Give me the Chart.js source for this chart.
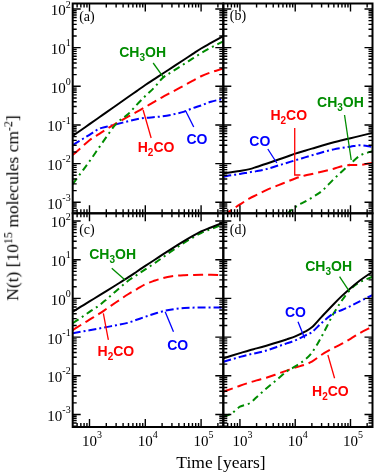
<!DOCTYPE html>
<html><head><meta charset="utf-8">
<script src="https://cdn.jsdelivr.net/npm/chart.js@4.4.1/dist/chart.umd.min.js"></script>
<style>
html,body{margin:0;padding:0;background:#fff;}
#wrap{position:relative;width:374px;height:474px;overflow:hidden;background:#fff;}
#wrap canvas{position:absolute;left:0;top:0;}
.ttl{position:absolute;font-family:"Liberation Serif","Times New Roman",serif;font-size:17.5px;color:#000;white-space:nowrap;line-height:1;transform:translate(-50%,-50%);}
.ttl sup{font-size:0.68em;vertical-align:0.5em;line-height:0;}
#yt{transform:translate(-50%,-50%) rotate(-90deg);}
</style></head><body>
<div id="wrap">
<canvas id="ca" width="374" height="474"></canvas>
<canvas id="cb" width="374" height="474"></canvas>
<canvas id="cc" width="374" height="474"></canvas>
<canvas id="cd" width="374" height="474"></canvas>
<div class="ttl" id="xt" style="left:221px;top:463px;">Time [years]</div>
<div class="ttl" id="yt" style="left:12.5px;top:208px;">N(t) [10<sup>15</sup> molecules cm<sup>-2</sup>]</div>
</div>
<script>
// ---------- data ----------
const timeYears = [500, 700, 1000, 1500, 2000, 3000, 5000, 7000, 1e4, 1.5e4, 2e4, 3e4, 5e4, 7e4, 1e5, 1.5e5, 2.5e5];

// panel (a)
const aTotal  = [0.052, 0.073, 0.105, 0.158, 0.211, 0.319, 0.536, 0.753, 1.08, 1.58, 2.08, 3.05, 4.94, 6.78, 9.5, 13.2, 20];
const aCH3OH  = [0.00295, 0.0057, 0.0115, 0.0267, 0.0484, 0.107, 0.195, 0.33, 0.56, 0.98, 1.6, 2.38, 3.8, 5.2, 7.2, 10.0, 14.5];
const aH2CO   = [0.0167, 0.0256, 0.0404, 0.059, 0.077, 0.110, 0.166, 0.218, 0.29, 0.41, 0.52, 0.71, 1.06, 1.38, 1.82, 2.3, 2.9];
const aCO     = [0.0303, 0.0407, 0.0557, 0.080, 0.090, 0.104, 0.125, 0.141, 0.152, 0.160, 0.167, 0.185, 0.222, 0.27, 0.32, 0.40, 0.47];

// panel (b)
const bTotal  = [0.0056, 0.0060, 0.00645, 0.0072, 0.0082, 0.0099, 0.0128, 0.0151, 0.0181, 0.0216, 0.0244, 0.0291, 0.0357, 0.0401, 0.0454, 0.0522, 0.0624];
const bCO     = [0.0046, 0.0050, 0.0054, 0.0060, 0.0064, 0.0072, 0.0090, 0.0104, 0.0122, 0.0145, 0.0164, 0.0195, 0.0234, 0.0254, 0.0275, 0.030, 0.027];
const bH2CO   = [0.00045, 0.000625, 0.00088, 0.00126, 0.00155, 0.00207, 0.00277, 0.00337, 0.00413, 0.00493, 0.0054, 0.00615, 0.0074, 0.00855, 0.0092, 0.0093, 0.0105];
const bCH3OH  = [null, null, null, null, null, null, null, 0.00049, 0.00075, 0.00104, 0.00132, 0.00193, 0.0040, 0.00625, 0.0099, 0.0163, 0.021];

// panel (c)
const cTotal  = [0.453, 0.61, 0.836, 1.19, 1.54, 2.22, 3.54, 4.89, 6.9, 10.1, 13.3, 19.4, 30.6, 40.6, 54, 68, 92];
const cCH3OH  = [0.228, 0.315, 0.449, 0.662, 0.933, 1.56, 2.9, 4.0, 5.6, 8.3, 11.1, 16.9, 27.7, 36.7, 49, 62, 83];
const cH2CO   = [0.152, 0.205, 0.281, 0.402, 0.532, 0.794, 1.30, 1.72, 2.33, 2.89, 3.31, 3.73, 3.97, 4.03, 4.07, 4.07, 3.98];
const cCO     = [0.125, 0.137, 0.150, 0.167, 0.181, 0.202, 0.236, 0.28, 0.336, 0.406, 0.46, 0.519, 0.565, 0.575, 0.582, 0.582, 0.575];

// panel (d)
const dTotal  = [0.0283, 0.033, 0.0386, 0.0459, 0.051, 0.0598, 0.0745, 0.0873, 0.104, 0.138, 0.179, 0.333, 0.718, 1.16, 1.84, 2.94, 4.88];
const dCO     = [0.0231, 0.0265, 0.0307, 0.0357, 0.0388, 0.0449, 0.058, 0.0687, 0.0822, 0.109, 0.134, 0.232, 0.414, 0.502, 0.634, 0.848, 1.22];
const dCH3OH  = [0.00088, 0.00105, 0.00159, 0.00195, 0.00279, 0.0047, 0.0086, 0.0129, 0.0175, 0.026, 0.0394, 0.1035, 0.417, 0.885, 1.72, 2.66, 3.63];
const dH2CO   = [0.00388, 0.0046, 0.00555, 0.0067, 0.0076, 0.0089, 0.01146, 0.0136, 0.0163, 0.0194, 0.0233, 0.035, 0.0528, 0.0673, 0.09, 0.129, 0.186];

const xTickExponents = [3, 4, 5];
const yTickExponents = [-3, -2, -1, 0, 1, 2];
const panelTags = ['(a)', '(b)', '(c)', '(d)'];

// ---------- styles ----------
const COL = { total: '#000000', co: '#0000ff', h2co: '#ff0000', ch3oh: '#008c00' };
const DASH = { total: [], co: [8, 3, 2, 3], h2co: [10, 5], ch3oh: [7, 4, 2, 4] };
const SERIF = '"Liberation Serif","Times New Roman",serif';
const SANS = '"Liberation Sans",Arial,sans-serif';

const CH3OH_TXT = [['CH', 0], ['3', 1], ['OH', 0]];
const H2CO_TXT = [['H', 0], ['2', 1], ['CO', 0]];
const CO_TXT = [['CO', 0]];

// annotation anchors in log10(data) coordinates
const panels = [
  { id: 'ca', box: [72.7, 3.5, 223.3, 213.3], yMin: 5.19e-4, yMax: 138.7, tagDy: 14, xLab: false, yLab: true,
    series: [['total', aTotal], ['ch3oh', aCH3OH], ['h2co', aH2CO], ['co', aCO]],
    notes: [
      { k: 'ch3oh', txt: CH3OH_TXT, at: [3.952, 0.766], lead: [[4.141, 0.603], [4.32, 0.241]] },
      { k: 'h2co', txt: H2CO_TXT, at: [4.193, -1.691], lead: [[4.105, -1.337], [3.961, -0.613]] },
      { k: 'co', txt: CO_TXT, at: [4.925, -1.492], lead: [[4.868, -1.053], [4.724, -0.639]] } ] },
  { id: 'cb', box: [223.3, 3.5, 372.5, 213.3], yMin: 5.19e-4, yMax: 138.7, tagDy: 13, xLab: false, yLab: false,
    series: [['total', bTotal], ['co', bCO], ['h2co', bH2CO], ['ch3oh', bCH3OH]],
    notes: [
      { k: 'ch3oh', txt: CH3OH_TXT, at: [4.818, -0.527], lead: [[4.892, -0.742], [5.013, -1.906]] },
      { k: 'h2co', txt: H2CO_TXT, at: [3.883, -0.871], lead: [[3.991, -1.078], [3.991, -2.294], [4.094, -2.294]] },
      { k: 'co', txt: CO_TXT, at: [3.36, -1.536], lead: [[3.504, -1.622], [3.667, -1.984]] } ] },
  { id: 'cc', box: [72.7, 213.3, 223.3, 427], yMin: 4.75e-4, yMax: 158, tagDy: 17, xLab: true, yLab: true,
    series: [['total', cTotal], ['ch3oh', cCH3OH], ['h2co', cH2CO], ['co', cCO]],
    notes: [
      { k: 'ch3oh', txt: CH3OH_TXT, at: [3.414, 1.018], lead: [[3.399, 0.778], [3.638, 0.477]] },
      { k: 'h2co', txt: H2CO_TXT, at: [3.473, -1.488], lead: [[3.338, -1.075], [3.248, -0.385]] },
      { k: 'co', txt: CO_TXT, at: [4.58, -1.333], lead: [[4.505, -0.86], [4.356, -0.344]] } ] },
  { id: 'cd', box: [223.3, 213.3, 372.5, 427], yMin: 4.75e-4, yMax: 158, tagDy: 17, xLab: true, yLab: false,
    series: [['total', dTotal], ['co', dCO], ['ch3oh', dCH3OH], ['h2co', dH2CO]],
    notes: [
      { k: 'ch3oh', txt: CH3OH_TXT, at: [4.604, 0.708], lead: [[4.802, 0.561], [4.982, 0.173]] },
      { k: 'co', txt: CO_TXT, at: [4.005, -0.473], lead: [[4.05, -0.602], [4.171, -1.031]] },
      { k: 'h2co', txt: H2CO_TXT, at: [4.636, -2.522], lead: [[4.712, -2.065], [4.591, -1.462]] } ] }
];

function powLabel(ctx, exp, x, y, mode) {
  ctx.font = '15px ' + SERIF;
  const wb = ctx.measureText('10').width;
  ctx.font = '10px ' + SERIF;
  const es = String(exp);
  const we = ctx.measureText(es).width;
  let sx, cy;
  if (mode === 'y') { sx = x - wb - we; cy = y + 2.5; }
  else { sx = x - wb / 2; cy = y; }
  ctx.textAlign = 'left'; ctx.textBaseline = 'middle'; ctx.fillStyle = '#000';
  ctx.font = '15px ' + SERIF; ctx.fillText('10', sx, cy);
  ctx.font = '10px ' + SERIF; ctx.fillText(es, sx + wb, cy - 6.5);
}

function chemText(ctx, parts, cx, base, color) {
  const big = 'bold 14px ' + SANS, small = 'bold 10px ' + SANS;
  let w = 0;
  parts.forEach(([t, s]) => { ctx.font = s ? small : big; w += ctx.measureText(t).width; });
  let x = cx - w / 2;
  ctx.fillStyle = color; ctx.textAlign = 'left'; ctx.textBaseline = 'alphabetic';
  parts.forEach(([t, s]) => {
    ctx.font = s ? small : big;
    ctx.fillText(t, x, s ? base + 4 : base);
    x += ctx.measureText(t).width;
  });
}

function panelPlugin(P, idx) {
  return {
    id: 'panelAxes',
    afterDraw(chart) {
      const ctx = chart.ctx, A = chart.chartArea, xs = chart.scales.x, ys = chart.scales.y;
      const px = lt => xs.getPixelForValue(Math.pow(10, lt));
      const py = ln => ys.getPixelForValue(Math.pow(10, ln));
      ctx.save();
      // ticks (inward, on all four sides)
      ctx.strokeStyle = '#000'; ctx.lineWidth = 1.4; ctx.setLineDash([]);
      ctx.beginPath();
      for (let e = 2; e <= 5; e++) for (let m = 1; m <= 9; m++) {
        const v = m * Math.pow(10, e);
        if (v < xs.min * 1.001 || v > xs.max / 1.001) continue;
        const x = xs.getPixelForValue(v), L = m === 1 ? 8 : 4;
        ctx.moveTo(x, A.bottom); ctx.lineTo(x, A.bottom - L);
        ctx.moveTo(x, A.top); ctx.lineTo(x, A.top + L);
      }
      for (let e = -4; e <= 2; e++) for (let m = 1; m <= 9; m++) {
        const v = m * Math.pow(10, e);
        if (v < ys.min * 1.001 || v > ys.max / 1.001) continue;
        const y = ys.getPixelForValue(v), L = m === 1 ? 8 : 4;
        ctx.moveTo(A.left, y); ctx.lineTo(A.left + L, y);
        ctx.moveTo(A.right, y); ctx.lineTo(A.right - L, y);
      }
      ctx.stroke();
      ctx.lineWidth = 2;
      ctx.strokeRect(A.left, A.top, A.right - A.left, A.bottom - A.top);
      // tick labels
      if (P.yLab) yTickExponents.forEach(e => powLabel(ctx, e, A.left - 2, ys.getPixelForValue(Math.pow(10, e)), 'y'));
      if (P.xLab) xTickExponents.forEach(e => powLabel(ctx, e, xs.getPixelForValue(Math.pow(10, e)), A.bottom + 15, 'x'));
      // panel tag
      ctx.fillStyle = '#000'; ctx.font = '14px ' + SERIF; ctx.textAlign = 'left'; ctx.textBaseline = 'middle';
      ctx.fillText(panelTags[idx], A.left + 6.5, A.top + P.tagDy);
      // species labels with leader lines
      P.notes.forEach(n => {
        const c = COL[n.k];
        ctx.strokeStyle = c; ctx.lineWidth = 1.3;
        ctx.beginPath();
        n.lead.forEach((p, i) => { const X = px(p[0]), Y = py(p[1]); i ? ctx.lineTo(X, Y) : ctx.moveTo(X, Y); });
        ctx.stroke();
        chemText(ctx, n.txt, px(n.at[0]), py(n.at[1]), c);
      });
      ctx.restore();
    }
  };
}

panels.forEach((P, idx) => {
  const [x0, y0, x1, y1] = P.box;
  new Chart(document.getElementById(P.id), {
    type: 'line',
    data: {
      datasets: P.series.map(([k, vals]) => ({
        data: timeYears.map((t, i) => ({ x: t, y: vals[i] })).filter(p => p.y !== null),
        borderColor: COL[k], borderWidth: 2, borderDash: DASH[k],
        pointRadius: 0, fill: false, cubicInterpolationMode: 'monotone', clip: 0
      }))
    },
    options: {
      responsive: false, animation: false, events: [],
      layout: { padding: { left: x0, top: y0, right: 374 - x1, bottom: 474 - y1 } },
      plugins: { legend: { display: false }, tooltip: { enabled: false } },
      scales: {
        x: { type: 'logarithmic', min: 500, max: 2.5e5, display: false },
        y: { type: 'logarithmic', min: P.yMin, max: P.yMax, display: false }
      }
    },
    plugins: [panelPlugin(P, idx)]
  });
});
</script>
</body></html>
